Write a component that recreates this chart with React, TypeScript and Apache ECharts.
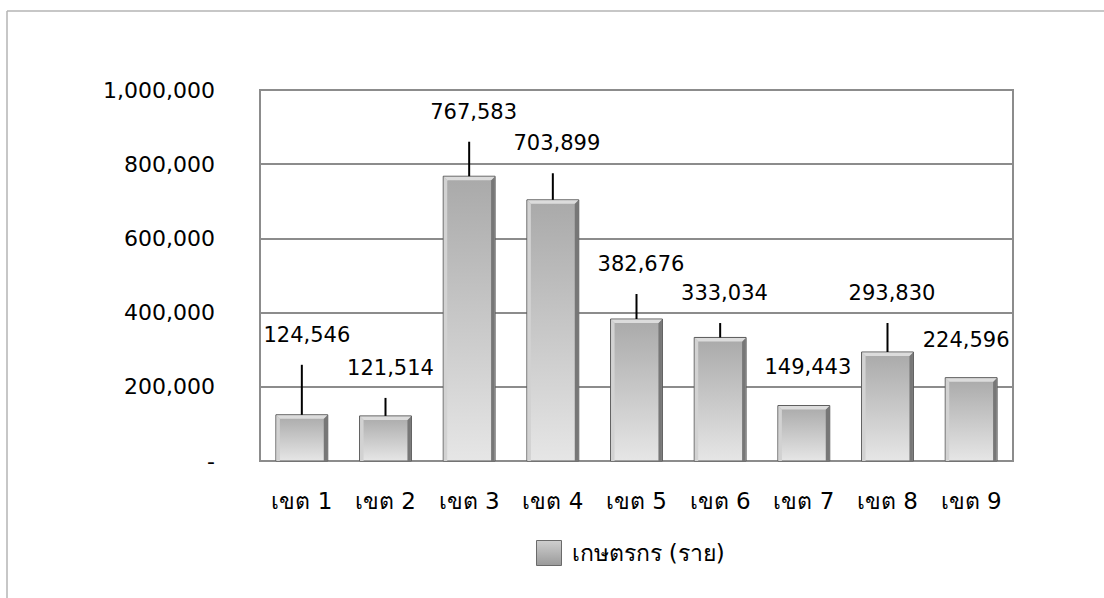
import React, { useEffect, useRef } from "react";
import * as echarts from "echarts";

const categories = ["เขต 1", "เขต 2", "เขต 3", "เขต 4", "เขต 5", "เขต 6", "เขต 7", "เขต 8", "เขต 9"];
const farmers = [124546, 121514, 767583, 703899, 382676, 333034, 149443, 293830, 224596];
const seriesName = "เกษตรกร (ราย)";
const yMin = 0;
const yMax = 1000000;
const yInterval = 200000;

// label placement styling (pixels): horizontal shift and rise of label centre above bar top
const labelDx = [5, 5, 4.5, 4, 4.5, 4.3, 4, 4.5, -5];
const labelRise = [80, 48, 64.5, 56.6, 55, 44.4, 39, 59, 37.7];

const FONT = "'DejaVu Sans', 'Noto Sans', sans-serif";

export default function App() {
  const ref = useRef<HTMLDivElement>(null);
  useEffect(() => {
    if (!ref.current) return;
    const chart = echarts.init(ref.current, null, { renderer: "svg" });
    const barFill = new echarts.graphic.LinearGradient(0, 0, 0, 1, [
      { offset: 0, color: "#a9a9a9" },
      { offset: 1, color: "#e6e6e6" },
    ]);
    const option: any = {
      animation: false,
      backgroundColor: "#ffffff",
      grid: {
        left: 260,
        right: 91,
        top: 90,
        bottom: 137,
        show: true,
        borderColor: "#8c8c8c",
        borderWidth: 2,
        backgroundColor: "transparent",
      },
      legend: {
        left: 536,
        top: 540,
        padding: 0,
        itemWidth: 25,
        itemHeight: 25,
        textStyle: { fontSize: 23, fontFamily: FONT, color: "#000", padding: [0, 0, 0, 5] },
        data: [
          {
            name: seriesName,
            icon: "rect",
            itemStyle: {
              color: new echarts.graphic.LinearGradient(0, 0, 0, 1, [
                { offset: 0, color: "#cfcfcf" },
                { offset: 1, color: "#9a9a9a" },
              ]),
              borderColor: "#6a6a6a",
              borderWidth: 1,
            },
          },
        ],
      },
      xAxis: {
        type: "category",
        data: categories,
        axisLine: { show: true, lineStyle: { color: "#8c8c8c", width: 2 } },
        axisTick: { show: false },
        axisLabel: { fontSize: 23, fontFamily: FONT, color: "#000", margin: 28 },
      },
      yAxis: {
        type: "value",
        min: yMin,
        max: yMax,
        interval: yInterval,
        axisLine: { show: false },
        axisTick: { show: false },
        splitLine: { lineStyle: { color: "#8c8c8c", width: 2 } },
        axisLabel: {
          fontSize: 22,
          fontFamily: FONT,
          color: "#000",
          margin: 45,
          padding: [0, 0, 6, 0],
          formatter: (v: number) => (v === 0 ? "-" : v.toLocaleString("en-US")),
        },
      },
      graphic: [
        { type: "line", shape: { x1: 7, y1: 11, x2: 7, y2: 598 }, style: { stroke: "#b4b4b4", lineWidth: 1.5 } },
        { type: "line", shape: { x1: 7, y1: 11, x2: 1104, y2: 11 }, style: { stroke: "#b4b4b4", lineWidth: 1.5 } },
      ],
      series: [
        {
          name: seriesName,
          type: "custom",
          data: farmers.map((v, i) => [i, v]),
          encode: { x: 0, y: 1 },
          itemStyle: { color: "#b0b0b0" },
          renderItem: (params: any, api: any) => {
            const i = params.dataIndex;
            const idx = api.value(0);
            const v = api.value(1);
            const top = api.coord([idx, v]);
            const base = api.coord([idx, 0]);
            const w = api.size([1, 0])[0] * 0.62;
            const x = top[0] - w / 2;
            const ty = top[1];
            const by = base[1];
            const b = 4;
            const children: any[] = [
              {
                type: "rect",
                shape: { x, y: ty, width: w, height: by - ty },
                style: { fill: barFill, stroke: "#5a5a5a", lineWidth: 1 },
              },
              {
                type: "polygon",
                shape: { points: [[x + 0.5, ty + 0.5], [x + b, ty + b], [x + b, by], [x + 0.5, by]] },
                style: { fill: "#d2d2d2" },
              },
              {
                type: "polygon",
                shape: { points: [[x + w - 0.5, ty + 0.5], [x + w - b, ty + b], [x + w - b, by], [x + w - 0.5, by]] },
                style: { fill: "#777777" },
              },
              {
                type: "polygon",
                shape: { points: [[x + 0.5, ty + 0.5], [x + w - 0.5, ty + 0.5], [x + w - b, ty + b], [x + b, ty + b]] },
                style: { fill: "#dcdcdc" },
              },
            ];
            const rise = labelRise[i];
            const lineLen = rise - 30;
            if (lineLen > 12) {
              children.push({
                type: "line",
                shape: { x1: top[0], y1: ty, x2: top[0], y2: ty - lineLen },
                style: { stroke: "#000", lineWidth: 2 },
              });
            }
            children.push({
              type: "text",
              style: {
                text: Number(v).toLocaleString("en-US"),
                x: top[0] + labelDx[i],
                y: ty - rise,
                align: "center",
                verticalAlign: "middle",
                fontSize: 21,
                fontFamily: FONT,
                fill: "#000",
              },
            });
            return { type: "group", children };
          },
        },
      ],
    };
    chart.setOption(option);
    return () => chart.dispose();
  }, []);
  return <div ref={ref} style={{ position: "absolute", left: 0, top: 0, width: 1104, height: 598 }} />;
}
